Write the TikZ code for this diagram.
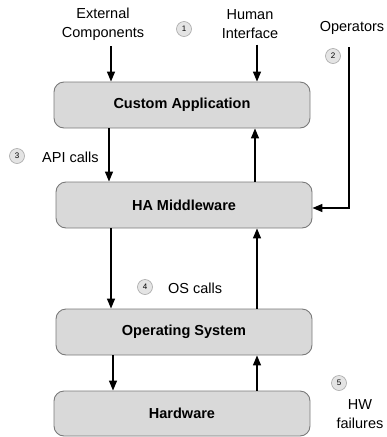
\documentclass[tikz,border=0pt]{standalone}
\usepackage{fontspec}
\setmainfont{Liberation Sans}
\usetikzlibrary{arrows.meta}
\definecolor{boxfill}{HTML}{D9D9D9}
\definecolor{boxline}{HTML}{7A7A7A}
\definecolor{badgefill}{HTML}{E4E4E4}
\definecolor{badgeline}{HTML}{A8A8A8}
\tikzset{
  layer/.style={draw=boxline, fill=boxfill, line width=0.9pt, rounded corners=10pt,
    minimum width=256pt, minimum height=46pt, inner sep=0pt,
    font=\fontsize{14.5}{17}\selectfont\bfseries},
  lbl/.style={inner sep=0pt, align=center, font=\fontsize{14.5}{18.5}\selectfont},
  badge/.style={circle, draw=badgeline, fill=badgefill, line width=0.6pt,
    minimum size=15pt, inner sep=0pt, font=\fontsize{8}{9}\selectfont},
  arr/.style={line width=1.4pt, -{Triangle[length=10pt, width=8pt]}}
}
\begin{document}
\begin{tikzpicture}[x=1pt, y=-1pt]
\useasboundingbox (0,0) rectangle (387,437);

% the four layers of the stack
\node[layer] (CA) at (182,105) {Custom Application};
\node[layer] (HA) at (184,205) {HA Middleware};
\node[layer] (OS) at (184,332) {Operating System};
\node[layer, minimum height=45pt] (HW) at (182,413.5) {Hardware};

% column positions of the vertical arrows
\coordinate (cL) at (111,0);
\coordinate (cR) at (257,0);
\coordinate (cOp) at (349,0);

% labels
\node[lbl] (ext) at (103,24) {External\\Components};
\node[lbl] (hum) at (250,24) {Human\\Interface};
\node[lbl] (op) at (352,28) {Operators};
\node[lbl, anchor=west] (api) at (42,157) {API calls};
\node[lbl, anchor=west] (osc) at (168,288) {OS calls};
\node[lbl] (hwf) at (360,414) {HW\\failures};

% numbered badges
\node[badge] (b1) at (184,29) {1};
\node[badge] (b2) at (333,56) {2};
\node[badge] (b3) at (17,156) {3};
\node[badge] (b4) at (145,287) {4};
\node[badge] (b5) at (339,383) {5};

% inputs into the application
\coordinate (extEnd) at (ext.south -| cL);
\coordinate (humEnd) at (hum.south -| cR);
\draw[arr] ([yshift=-6pt]extEnd) -- (CA.north -| cL);
\draw[arr] ([yshift=-6pt]humEnd) -- (CA.north -| cR);

% calls down and events up
\draw[arr] (CA.south -| 109,0) -- (HA.north -| 109,0);
\draw[arr] (HA.north -| 255,0) -- (CA.south -| 255,0);
\draw[arr] (HA.south -| cL) -- (OS.north -| cL);
\draw[arr] (OS.north -| cR) -- (HA.south -| cR);
\draw[arr] (OS.south -| 113,0) -- (HW.north -| 113,0);
\draw[arr] (HW.north -| cR) -- (OS.south -| cR);

% operator path into the middleware
\coordinate (opTop) at (cOp |- 0,47);
\draw[line width=1.4pt, -{Triangle[length=10pt, width=8pt]}]
  (opTop) |- ([yshift=-3pt]HA.east);
\end{tikzpicture}
\end{document}
